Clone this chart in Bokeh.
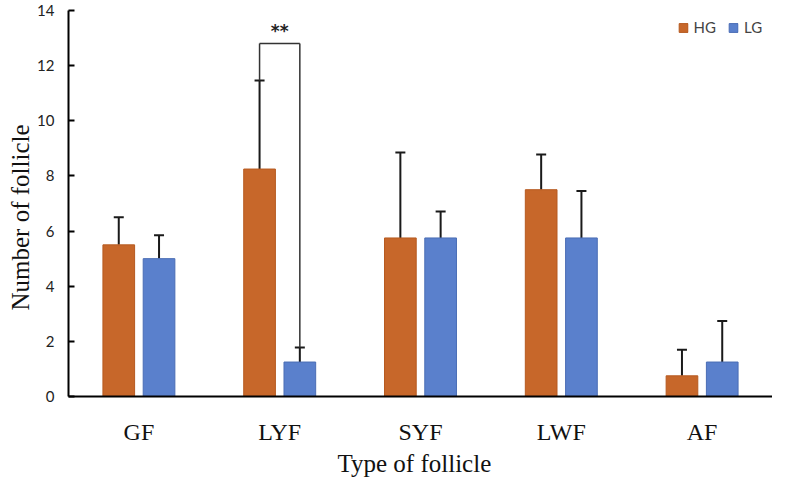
from bokeh.plotting import figure
from bokeh.models import ColumnDataSource, Whisker, TeeHead, Range1d, FixedTicker, Title
from bokeh.transform import dodge
from bokeh.core.properties import value
from bokeh.embed import file_html
from bokeh.resources import INLINE

cats = ["GF", "LYF", "SYF", "LWF", "AF"]
hg = [5.5, 8.25, 5.75, 7.5, 0.75]
lg = [5.0, 1.25, 5.75, 5.75, 1.25]
hg_sd = [1.0, 3.21, 3.1, 1.28, 0.95]
lg_sd = [0.85, 0.53, 0.96, 1.7, 1.49]
y_ticks = [0, 2, 4, 6, 8, 10, 12, 14]
sig_cat = ["LYF"]
sig_y = [12.8]
sig_text = ["**"]

ORANGE = "#C7672A"
BLUE = "#5A80CC"
OFF = 0.143
W = 0.225
SERIF = "Liberation Serif"

src = ColumnDataSource(dict(
    cat=cats, hg=hg, lg=lg,
    hg_up=[a + b for a, b in zip(hg, hg_sd)],
    lg_up=[a + b for a, b in zip(lg, lg_sd)],
))

p = figure(x_range=cats, y_range=Range1d(0, 14), width=772, height=478,
           output_backend="svg", toolbar_location=None,
           min_border_left=68, min_border_right=0, min_border_top=10, min_border_bottom=82)

p.vbar(x=dodge("cat", -OFF, range=p.x_range), top="hg", width=W, source=src,
       fill_color=ORANGE, line_color="#B65A20", line_width=1, legend_label="HG")
p.vbar(x=dodge("cat", OFF, range=p.x_range), top="lg", width=W, source=src,
       fill_color=BLUE, line_color="#4A6DB5", line_width=1, legend_label="LG")

for off, lo, up in [(-OFF, "hg", "hg_up"), (OFF, "lg", "lg_up")]:
    w = Whisker(base=dodge("cat", off, range=p.x_range), lower=lo, upper=up, source=src,
                line_color="#1a1a1a", line_width=2,
                upper_head=TeeHead(size=10, line_color="#1a1a1a", line_width=2),
                lower_head=None)
    p.add_layout(w)

# significance bracket
i = cats.index(sig_cat[0])
bsrc = ColumnDataSource(dict(cat=sig_cat, top=sig_y, hg_up=[hg[i] + hg_sd[i]],
                             lg_up=[lg[i] + lg_sd[i]], txt=sig_text,
                             ty=[sig_y[0] + 0.45]))
p.segment(x0=dodge("cat", -OFF, range=p.x_range), x1=dodge("cat", OFF, range=p.x_range),
          y0="top", y1="top", source=bsrc, line_color="#333333", line_width=1.5)
p.segment(x0=dodge("cat", -OFF, range=p.x_range), x1=dodge("cat", -OFF, range=p.x_range),
          y0="hg_up", y1="top", source=bsrc, line_color="#333333", line_width=1.5)
p.segment(x0=dodge("cat", OFF, range=p.x_range), x1=dodge("cat", OFF, range=p.x_range),
          y0="lg_up", y1="top", source=bsrc, line_color="#333333", line_width=1.5)
p.text(x="cat", y="ty", text="txt", source=bsrc, text_align="center",
       text_baseline="middle", text_font=value("DejaVu Sans"), text_font_size="17px",
       text_font_style="bold", text_color="#222222")

p.xgrid.visible = False
p.ygrid.visible = False
p.outline_line_color = None

p.yaxis.ticker = FixedTicker(ticks=y_ticks)
p.yaxis.major_tick_in = 6
p.yaxis.major_tick_out = 0
p.yaxis.minor_tick_line_color = None
p.yaxis.major_label_standoff = 14
p.yaxis.major_label_text_font = "Lato"
p.yaxis.major_label_text_font_size = "15px"
p.yaxis.major_label_text_color = "#222222"
p.yaxis.axis_line_width = 2
p.yaxis.axis_line_color = "black"
p.yaxis.major_tick_line_width = 2

p.xaxis.major_tick_line_color = None
p.xaxis.major_tick_out = 0
p.xaxis.major_label_standoff = 22
p.xaxis.major_label_text_font = SERIF
p.xaxis.major_label_text_font_size = "24px"
p.xaxis.major_label_text_color = "#111111"
p.xaxis.axis_line_width = 2
p.xaxis.axis_line_color = "black"

# axis titles as side titles (offset to match the reference's placement)
p.add_layout(Title(text="Type of follicle", align="left", offset=269,
                   text_font=SERIF, text_font_size="25px", text_font_style="normal",
                   text_color="#111111", standoff=0), "below")
p.add_layout(Title(text="Number of follicle", align="left", offset=86,
                   text_font=SERIF, text_font_size="25px", text_font_style="normal",
                   text_color="#111111", standoff=2), "left")

lgd = p.legend[0]
lgd.location = "top_right"
lgd.orientation = "horizontal"
lgd.border_line_color = None
lgd.background_fill_alpha = 0
lgd.label_text_font = "Lato"
lgd.label_text_font_size = "15px"
lgd.glyph_width = 11
lgd.glyph_height = 11
lgd.label_standoff = 5
lgd.spacing = 12
lgd.margin = 8
lgd.padding = 4
lgd.label_height = 14

open("out.html", "w").write(file_html(p, INLINE))
